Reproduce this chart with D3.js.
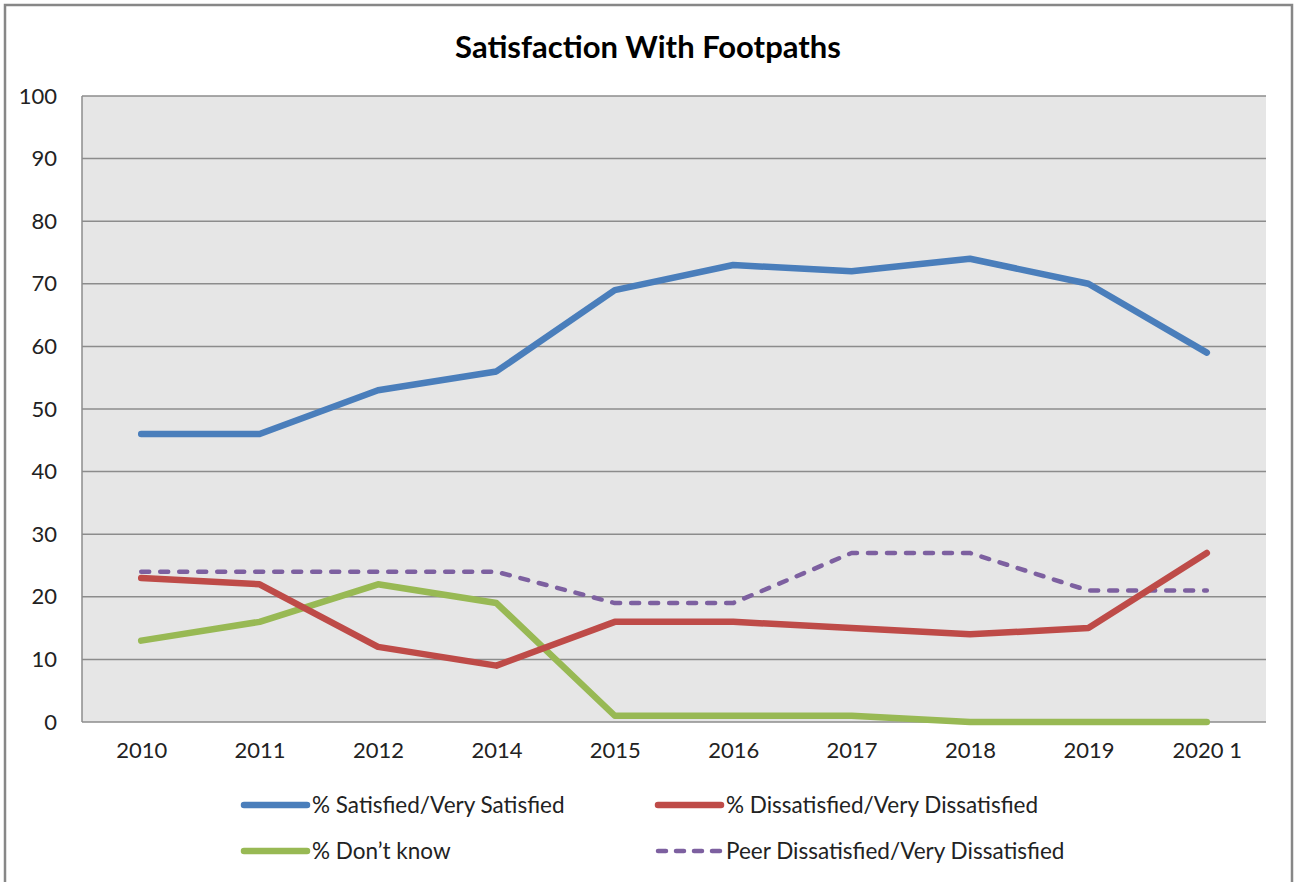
<!DOCTYPE html>
<html>
<head>
    <title>Satisfaction With Footpaths</title>
    <script src="https://d3js.org/d3.v7.min.js"></script>
    <style>
        body { margin: 0; background: #fff; }
        text { font-family: Lato, "Open Sans", sans-serif; fill: #222; }
        .grid line { stroke: #8c8c8c; stroke-width: 1.5px; }
        .line { fill: none; stroke-linejoin: round; stroke-linecap: round; }
    </style>
</head>
<body>
<div id="chart"></div>
<script>
    const years = ["2010", "2011", "2012", "2014", "2015", "2016", "2017", "2018", "2019", "2020 1"];
    const satisfied = [46, 46, 53, 56, 69, 73, 72, 74, 70, 59];
    const dissatisfied = [23, 22, 12, 9, 16, 16, 15, 14, 15, 27];
    const dontKnow = [13, 16, 22, 19, 1, 1, 1, 0, 0, 0];
    const peerDissatisfied = [24, 24, 24, 24, 19, 19, 27, 27, 21, 21];
    const yTicks = [0, 10, 20, 30, 40, 50, 60, 70, 80, 90, 100];

    const series = [
        { name: "% Satisfied/Very Satisfied", values: satisfied, color: "#4a7ebb", width: 6.5, dash: null },
        { name: "% Dissatisfied/Very Dissatisfied", values: dissatisfied, color: "#be4b48", width: 6.5, dash: null },
        { name: "% Don\u2019t know", values: dontKnow, color: "#98b954", width: 6.5, dash: null },
        { name: "Peer Dissatisfied/Very Dissatisfied", values: peerDissatisfied, color: "#7d60a0", width: 4.5, dash: "8,11" }
    ];

    const W = 1301, H = 882;
    const plot = { left: 82, top: 96, right: 1266, bottom: 722 };

    const svg = d3.select("#chart").append("svg")
        .attr("width", W)
        .attr("height", H);

    // outer chart border
    svg.append("rect")
        .attr("x", 5).attr("y", 5)
        .attr("width", 1287).attr("height", 895)
        .attr("fill", "#fff")
        .attr("stroke", "#878787")
        .attr("stroke-width", 2.5);

    svg.append("text")
        .attr("x", 648).attr("y", 58)
        .attr("text-anchor", "middle")
        .style("font-size", "31px")
        .style("font-weight", "bold")
        .style("fill", "#000")
        .text("Satisfaction With Footpaths");

    const x = d3.scalePoint().domain(years).range([plot.left, plot.right]).padding(0.5);
    const y = d3.scaleLinear().domain([0, 100]).range([plot.bottom, plot.top]);

    svg.append("rect")
        .attr("x", plot.left).attr("y", plot.top)
        .attr("width", plot.right - plot.left)
        .attr("height", plot.bottom - plot.top)
        .attr("fill", "#e6e6e6");

    svg.append("g").attr("class", "grid")
        .selectAll("line")
        .data(yTicks)
        .enter().append("line")
        .attr("x1", plot.left).attr("x2", plot.right)
        .attr("y1", d => y(d)).attr("y2", d => y(d));

    svg.append("line")
        .attr("x1", plot.left).attr("x2", plot.left)
        .attr("y1", plot.top).attr("y2", plot.bottom)
        .attr("stroke", "#8c8c8c").attr("stroke-width", 1.5);

    // y axis labels
    const yAxis = svg.append("g")
        .attr("transform", `translate(${plot.left},0)`)
        .call(d3.axisLeft(y).tickValues(yTicks).tickSize(0).tickPadding(25));
    yAxis.select(".domain").remove();
    yAxis.selectAll("text").style("font-size", "22px").attr("fill", "#222");

    // x axis labels
    const xAxis = svg.append("g")
        .attr("transform", `translate(0,${plot.bottom})`)
        .call(d3.axisBottom(x).tickSize(0).tickPadding(20));
    xAxis.select(".domain").remove();
    xAxis.selectAll("text").style("font-size", "22px").attr("fill", "#222");

    const line = d3.line()
        .x((d, i) => x(years[i]))
        .y(d => y(d));

    series.slice().reverse().forEach(s => {
        svg.append("path")
            .datum(s.values)
            .attr("class", "line")
            .attr("stroke", s.color)
            .attr("stroke-width", s.width)
            .attr("stroke-dasharray", s.dash)
            .attr("d", line);
    });

    // legend
    const legendPos = [[241, 805], [655, 805], [241, 851], [655, 851]];
    const legend = svg.selectAll(".legend")
        .data(series)
        .enter().append("g")
        .attr("class", "legend")
        .attr("transform", (d, i) => `translate(${legendPos[i][0]},${legendPos[i][1]})`);

    legend.append("line")
        .attr("x1", 3).attr("x2", 66)
        .attr("stroke", d => d.color)
        .attr("stroke-width", d => d.width)
        .attr("stroke-linecap", "round")
        .attr("stroke-dasharray", d => d.dash ? "8,10" : null);

    legend.append("text")
        .attr("x", 71)
        .attr("dy", "0.35em")
        .style("font-size", "22.5px")
        .text(d => d.name);
</script>
</body>
</html>
